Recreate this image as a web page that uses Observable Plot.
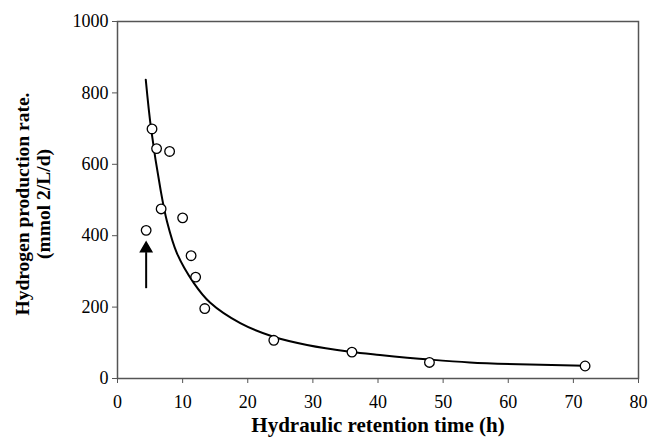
<!DOCTYPE html>
<html>
<head>
<meta charset="utf-8">
<script src="https://cdn.jsdelivr.net/npm/d3@7"></script>
<script src="https://cdn.jsdelivr.net/npm/@observablehq/plot@0.6"></script>
<style>
  html, body { margin: 0; padding: 0; background: #fff; }
  #chart svg { display: block; }
</style>
</head>
<body>
<div id="chart"></div>
<script>
// Observed data (open circles)
const hrt = [4.4, 5.3, 6.0, 8.0, 6.7, 10.0, 11.3, 12.0, 13.4, 24.0, 36.0, 47.9, 71.8];
const rate = [415, 699, 644, 636, 475, 450, 344, 284, 196, 107, 74, 45, 35];

// Fitted curve
const curveX = [4.34, 5.16, 6.6, 7.6, 9.15, 11.7, 14.25, 18.85, 23.95, 29.1, 35.7, 40.3, 48, 54.1, 63.3, 71.7];
const curveY = [837, 699, 530, 440, 350, 268, 212, 155, 117, 94, 75, 66, 53, 45, 39, 36];

// Arrow marking the first point
const arrowX = [4.4];
const arrowFrom = [253];
const arrowTip = [384];

const xTicks = [0, 10, 20, 30, 40, 50, 60, 70, 80];
const yTicks = [0, 200, 400, 600, 800, 1000];

const points = hrt.map((x, i) => ({x, y: rate[i]}));
const curve = curveX.map((x, i) => ({x, y: curveY[i]}));
const arrow = arrowX.map((x, i) => ({x, y1: arrowFrom[i], y2: arrowTip[i]}));

const serif = "'Liberation Serif', 'Times New Roman', serif";

const chart = Plot.plot({
  width: 651,
  height: 439,
  marginLeft: 117,
  marginRight: 13,
  marginTop: 21,
  marginBottom: 61,
  style: {fontFamily: serif, fontSize: "18px", color: "#000", background: "#fff"},
  x: {domain: [0, 80], ticks: xTicks},
  y: {domain: [0, 1000], ticks: yTicks},
  marks: [
    Plot.frame({stroke: "#555", strokeWidth: 1.5}),
    Plot.axisX({ticks: xTicks, tickSize: 5, tickPadding: 12, stroke: "#555", label: null, fontSize: 18, tickFormat: d3.format("d")}),
    Plot.axisY({ticks: yTicks, tickSize: 5, tickPadding: 4, stroke: "#555", label: null, fontSize: 18, tickFormat: d3.format("d")}),
    Plot.line(curve, {x: "x", y: "y", curve: "catmull-rom", stroke: "#000", strokeWidth: 2}),
    Plot.dot(points, {x: "x", y: "y", r: 4.8, stroke: "#000", fill: "#fff", strokeWidth: 1.3}),
    Plot.link(arrow, {x1: "x", x2: "x", y1: "y1", y2: d => d.y2 - 30, stroke: "#000", strokeWidth: 2}),
    Plot.dot(arrow, {x: "x", y: d => d.y2 - 20, symbol: "triangle", r: 4.2, fill: "#000", stroke: "#000"}),
    Plot.text(["Hydraulic retention time (h)"], {frameAnchor: "bottom", dy: 53, fontWeight: "bold", fontSize: 21, fill: "#000"}),
    Plot.text(["Hydrogen production rate.\n(mmol 2/L/d)"], {frameAnchor: "left", dx: -85, dy: 4, rotate: -90, textAnchor: "middle", fontWeight: "bold", fontSize: 19.5, lineHeight: 1.1, fill: "#000"})
  ]
});
document.getElementById("chart").appendChild(chart);
</script>
</body>
</html>
